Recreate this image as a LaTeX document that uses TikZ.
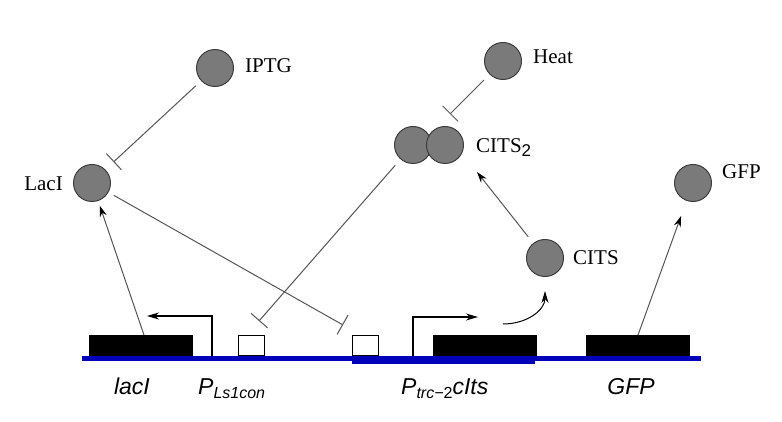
\documentclass[tikz,border=0pt]{standalone}
\usepackage{fontspec}
\setmainfont{Liberation Serif}
\newfontfamily\labsans{Liberation Sans}
\usetikzlibrary{arrows.meta,calc}
\definecolor{molfill}{RGB}{122,122,122}
\definecolor{moledge}{RGB}{60,60,60}
\definecolor{linkgray}{RGB}{85,85,85}
\definecolor{dnablue}{RGB}{0,0,185}
\begin{document}
\begin{tikzpicture}[x=1pt,y=-1pt,
 mol/.style={circle,draw=moledge,fill=molfill,line width=1pt,minimum size=37pt,inner sep=0pt},
 lbl/.style={font=\fontsize{21}{21}\selectfont,inner sep=0pt},
 gene/.style={font=\labsans\itshape\fontsize{23}{23}\selectfont,inner sep=0pt},
 cds/.style={fill=black,draw=none,minimum width=104pt,minimum height=21pt,inner sep=0pt,anchor=south west},
 opbox/.style={draw=black,fill=white,line width=1pt,minimum width=26pt,minimum height=20pt,inner sep=0pt,anchor=south west},
 act/.style={draw=linkgray,line width=1pt,-{Stealth[length=11pt,width=7pt,black]}},
 inh/.style={draw=linkgray,line width=1pt,-{Bar[width=22pt]}},
 prom/.style={draw=black,line width=1.2pt,-{Stealth[length=12pt,width=7pt]}},
]
\useasboundingbox (0,0) rectangle (782,422);
\fill[white] (0,0) rectangle (782,422);

% gene boxes
\node[cds] (lacIbox) at (89,356) {};
\node[opbox] (op1) at (238,356) {};
\node[opbox] (op2) at (352,356) {};
\node[cds] (citsbox) at (433,356) {};
\node[cds] (gfpbox) at (586,356) {};

% DNA
\draw[dnablue,line width=5.5pt] (82,358.5) -- (701,358.5);
\fill[dnablue] (352,356) rectangle (535,364);

% molecules
\node[mol] (IPTG) at (215,68) {};
\node[mol] (LacI) at (92,183) {};
\node[mol] (Heat) at (503,61) {};
\node[mol] (CITSa) at (413,145) {};
\node[mol] (CITSb) at (445,145) {};
\node[mol] (CITS) at (545,258) {};
\node[mol] (GFP) at (693,183) {};

% molecule labels
\node[lbl,anchor=base west] (IPTGl) at (245,73) {IPTG};
\node[lbl,anchor=base east] (LacIl) at (63,191) {LacI};
\node[lbl,anchor=base west] (Heatl) at (533,64) {Heat};
\node[lbl,anchor=base west] (CITS2l) at (476,153) {CITS\raisebox{-4pt}{\labsans\fontsize{17}{17}\selectfont 2}};
\node[lbl,anchor=base west] (CITSl) at (573,265) {CITS};
\node[lbl,anchor=base west] (GFPl) at (722,179) {GFP};

% gene labels
\node[gene,anchor=base] (lacIl) at (132,394) {lacI};
\node[gene,anchor=base west] (PLsl) at (198,394) {P\raisebox{-4pt}{\fontsize{16}{16}\selectfont Ls1con}};
\node[gene,anchor=base west] (Ptrcl) at (401,394) {P\raisebox{-4pt}{\fontsize{16}{16}\selectfont trc−\upshape 2}cIts};
\node[gene,anchor=base] (GFPgl) at (631,394) {GFP};

% coordinates
\coordinate (lacIout) at (144,335);
\coordinate (gfpout) at (638,335);
\coordinate (c2tip) at (477,172);
\coordinate (iptgbar) at (113.5,162);
\coordinate (heatbar) at (450,114);
\coordinate (op1bar) at (259,321);
\coordinate (op2bar) at (343,325);
\coordinate (p1base) at (212,356);
\coordinate (p1tip) at (147,316);
\coordinate (p2base) at (413,356);
\coordinate (p2tip) at (478,317);
\coordinate (cstart) at (503,324);

% activations
\draw[act,shorten >=5pt] (lacIout) -- (LacI);
\draw[act,shorten >=16pt] (gfpout) -- (GFP);
\draw[act,shorten <=8pt] (CITS) -- (c2tip);

% inhibitions
\draw[inh,shorten <=7pt] (IPTG) -- (iptgbar);
\draw[inh,shorten <=8pt] (Heat) -- (heatbar);
\draw[inh,shorten <=8pt] (CITSa) -- (op1bar);
\draw[inh,shorten <=6pt] (LacI) -- (op2bar);

% promoters
\draw[prom] (p1base) |- (p1tip);
\draw[prom] (p2base) |- (p2tip);
\draw[prom,line width=1pt,shorten >=14pt] (cstart) .. controls (527,324) and (545,310) .. (CITS);
\end{tikzpicture}
\end{document}
